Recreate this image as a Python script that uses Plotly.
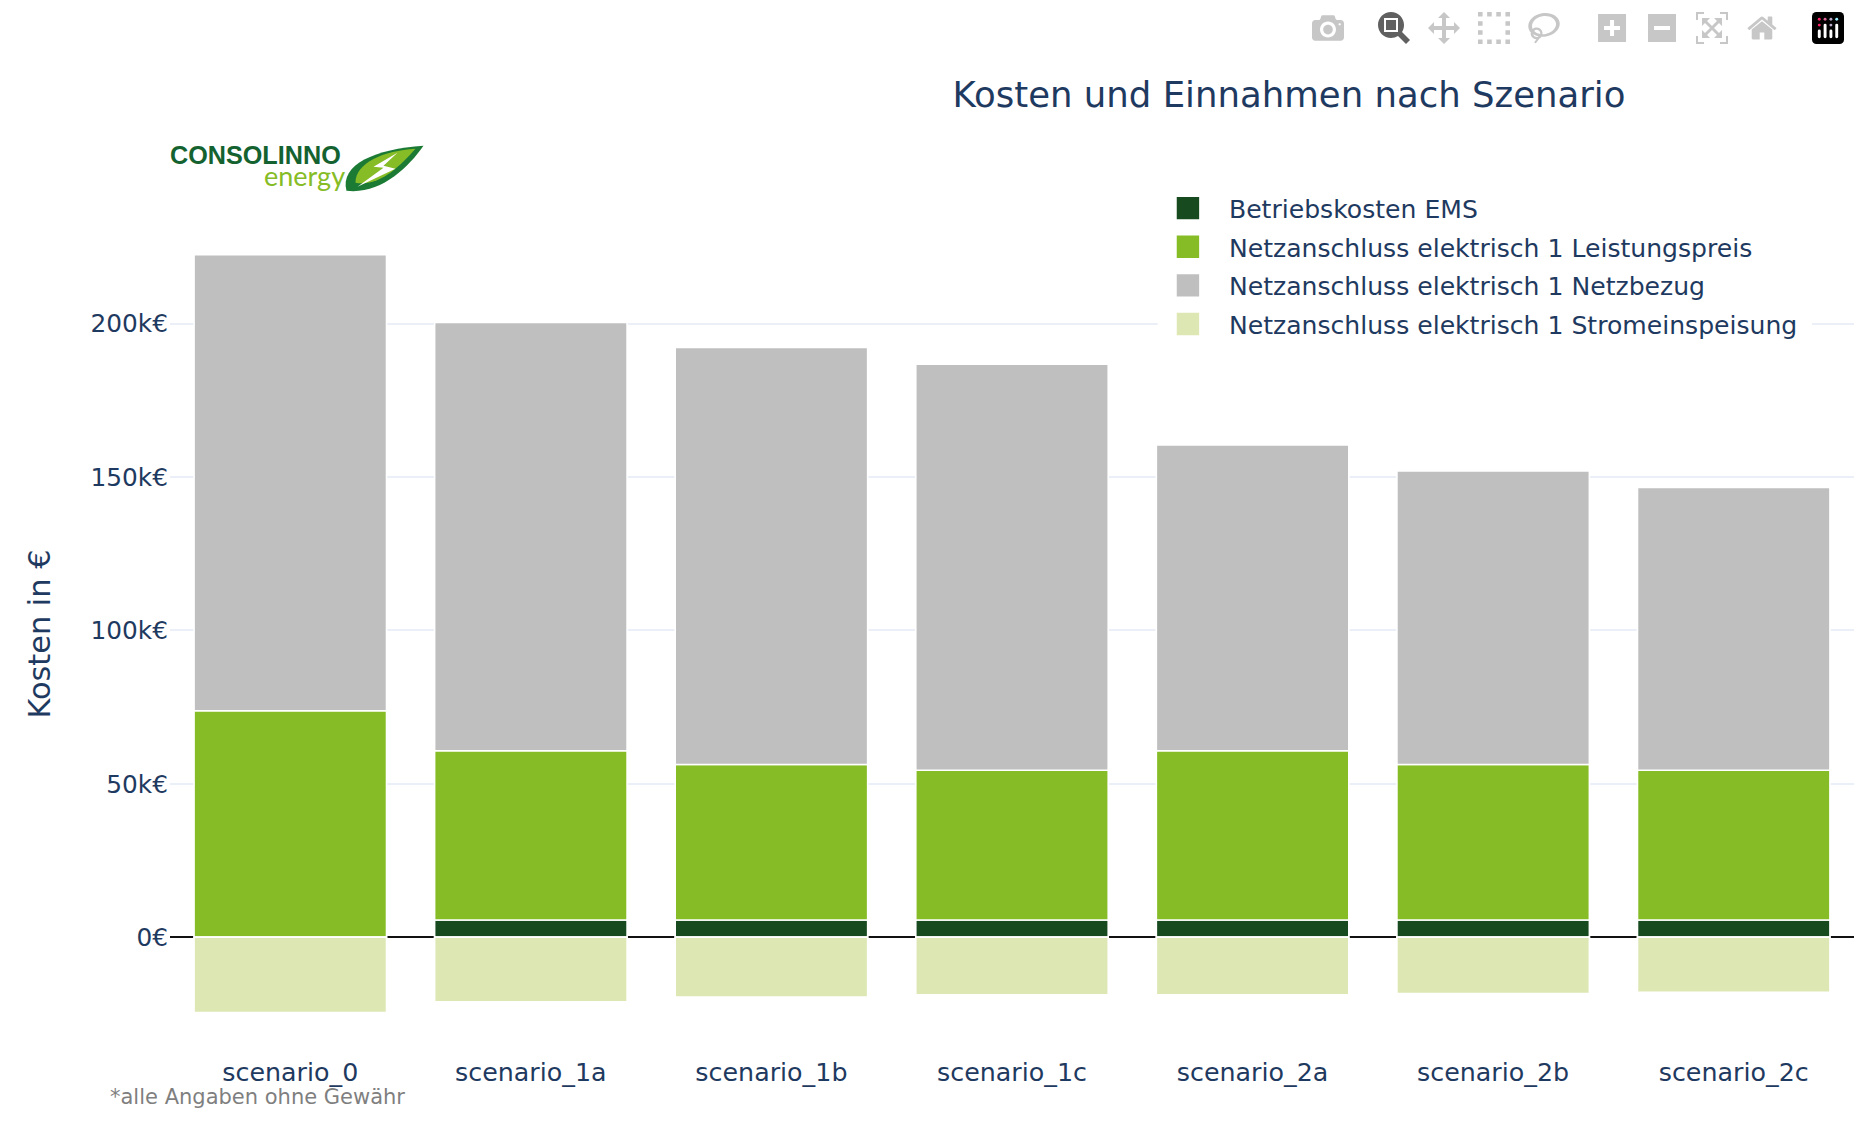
import json
import plotly.graph_objects as go

scenarios = ["scenario_0", "scenario_1a", "scenario_1b", "scenario_1c",
             "scenario_2a", "scenario_2b", "scenario_2c"]
betriebskosten_ems = [0, 5600, 5600, 5600, 5600, 5600, 5600]
leistungspreis = [73800, 55200, 50700, 48800, 55200, 50700, 48800]
netzbezug = [148700, 139600, 136000, 132400, 99700, 95700, 92200]
stromeinspeisung = [-24600, -21100, -19500, -18800, -18800, -18400, -18000]

series_names = ["Betriebskosten EMS", "Netzanschluss elektrisch 1 Leistungspreis",
                "Netzanschluss elektrisch 1 Netzbezug", "Netzanschluss elektrisch 1 Stromeinspeisung"]
series_values = [betriebskosten_ems, leistungspreis, netzbezug, stromeinspeisung]
series_colors = ["#174A1F", "#86BC25", "#BFBFBF", "#DDE7B3"]

# Toolbar strip: icon name, horizontal centre, opacity of the grey fill
toolbar_icons = [["camera", 664, 0.3], ["zoombox", 697, 0.85], ["pan", 722, 0.3],
                 ["selectbox", 747, 0.3], ["lasso", 772, 0.3], ["zoom_plus", 805.5, 0.3],
                 ["zoom_minus", 830.5, 0.3], ["autoscale", 855.5, 0.3], ["home", 880.5, 0.3],
                 ["newplotlylogo", 914, 1]]

FONT = "DejaVu Sans"
INK = "#1F3A60"
WIDTH, HEIGHT = 932, 573
LEFT, RIGHT, TOP, BOTTOM = 85.3, 927, 106.6, 527


def px(x):
    return (x - LEFT) / (RIGHT - LEFT)


def py(y):
    return (BOTTOM - y) / (BOTTOM - TOP)


def logo_path(commands):
    parts = []
    for cmd, *pts in commands:
        pairs = zip(pts[::2], pts[1::2])
        parts.append(cmd + " ".join(f"{px(x):.5f},{py(y):.5f}" for x, y in pairs))
    return " ".join(parts) + " Z"


fig = go.Figure()
for name, values, color in zip(series_names, series_values, series_colors):
    fig.add_bar(name=name, x=scenarios, y=values, marker_color=color, legendgroup=name,
                marker_line_color="white", marker_line_width=0.8)

# Company mark: two lines of lettering and a small leaf with a lightning bolt
leaf_dark = [("M", 173.5, 95), ("C", 170, 82, 188, 74, 212, 72.5), ("C", 204, 84, 190, 97, 173.5, 95)]
leaf_light = [("M", 178, 91), ("C", 178, 81, 192, 75, 208, 74), ("C", 200, 83, 190, 93, 178, 91)]
bolt = [("M", 199, 76), ("L", 187, 83), ("L", 192, 83.5), ("L", 179, 93), ("L", 198, 84), ("L", 192, 82.5)]
paper_shapes = [
    dict(type="path", xref="paper", yref="paper", path=logo_path(leaf_dark),
         fillcolor="#1B7A34", line_width=0),
    dict(type="path", xref="paper", yref="paper", path=logo_path(leaf_light),
         fillcolor="#86BC25", line_width=0),
    dict(type="path", xref="paper", yref="paper", path=logo_path(bolt),
         fillcolor="white", line_width=0),
    # White panel behind the legend, interrupting the 200k gridline
    dict(type="rect", xref="paper", yref="paper", x0=px(579), x1=px(906),
         y0=py(178), y1=py(92), fillcolor="white", line_width=0),
]

annotations = [
    dict(text="<b>CONSOLINNO</b>", x=px(172.8), y=py(77.6), xref="paper", yref="paper",
         xanchor="right", yanchor="middle", showarrow=False,
         font=dict(family="Liberation Sans", size=12.6, color="#14622F")),
    dict(text="energy", x=px(175), y=py(88), xref="paper", yref="paper",
         xanchor="right", yanchor="middle", showarrow=False,
         font=dict(family="Lato", size=13.5, color="#86BC25")),
    dict(text="*alle Angaben ohne Gewähr", x=px(53.6), y=py(548.5), xref="paper", yref="paper",
         xanchor="left", yanchor="middle", showarrow=False,
         font=dict(family=FONT, size=10.5, color="#7F7F7F")),
]

fig.update_layout(
    width=WIDTH, height=HEIGHT,
    margin=dict(l=LEFT, r=WIDTH - RIGHT, t=TOP, b=HEIGHT - BOTTOM, pad=0),
    paper_bgcolor="white", plot_bgcolor="white",
    barmode="relative", bargap=0.2,
    font=dict(family=FONT, size=12, color=INK),
    title=dict(text="Kosten und Einnahmen nach Szenario", x=644.5 / WIDTH, xanchor="center",
               y=1 - 47.5 / HEIGHT, yanchor="middle", font=dict(size=17.75, color=INK)),
    legend=dict(x=px(573.6), y=py(89), xanchor="left", yanchor="top", itemwidth=31,
                tracegroupgap=0.4, traceorder="normal",
                bgcolor="rgba(0,0,0,0)", font=dict(size=12.55, color=INK)),
    shapes=paper_shapes,
    annotations=annotations,
    xaxis=dict(showgrid=False, showline=False, ticks="", tickfont=dict(size=12.67, color=INK)),
    yaxis=dict(range=[-38100, 235800], dtick=50000, tickformat="~s", ticksuffix="€",
               gridcolor="#EBF0F8", gridwidth=1,
               zeroline=True, zerolinecolor="#111111", zerolinewidth=1,
               tickfont=dict(size=12.4, color=INK),
               title=dict(text="Kosten in €", font=dict(size=15.2, color=INK), standoff=15.5)),
)

# The figure is laid out at half size and shown at double scale; the toolbar strip
# is built from the icon set that ships with plotly.js
page_script = """
document.body.style.margin = '0';
document.body.style.overflow = 'hidden';
document.body.style.transformOrigin = '0 0';
document.body.style.transform = 'scale(2)';
var strip = document.createElement('div');
strip.style.cssText = 'position:absolute;left:0;top:0;width:932px;height:30px;pointer-events:none';
ICONS.forEach(function (entry) {
    var icon = Plotly.Icons[entry[0]];
    if (!icon) { return; }
    var holder = document.createElement('div');
    holder.style.cssText = 'position:absolute;top:6.4px;width:16px;height:16px;left:' + (entry[1] - 8) + 'px';
    if (icon.svg) {
        holder.innerHTML = icon.svg;
        var logo = holder.querySelector('svg');
        logo.setAttribute('width', '16');
        logo.setAttribute('height', '16');
    } else {
        var h = icon.height || icon.ascent - icon.descent;
        var t = icon.transform || ('matrix(1 0 0 -1 0 ' + icon.ascent + ')');
        holder.innerHTML = '<svg width="16" height="16" viewBox="0 0 ' + icon.width + ' ' + h + '">' +
            '<path d="' + icon.path + '" transform="' + t + '" fill="rgba(68,68,68,' + entry[2] + ')"/></svg>';
    }
    strip.appendChild(holder);
});
document.body.appendChild(strip);
""".replace("ICONS", json.dumps(toolbar_icons))

fig.write_html("out.html", config=dict(displayModeBar=False), post_script=page_script,
               default_width=WIDTH, default_height=HEIGHT)
